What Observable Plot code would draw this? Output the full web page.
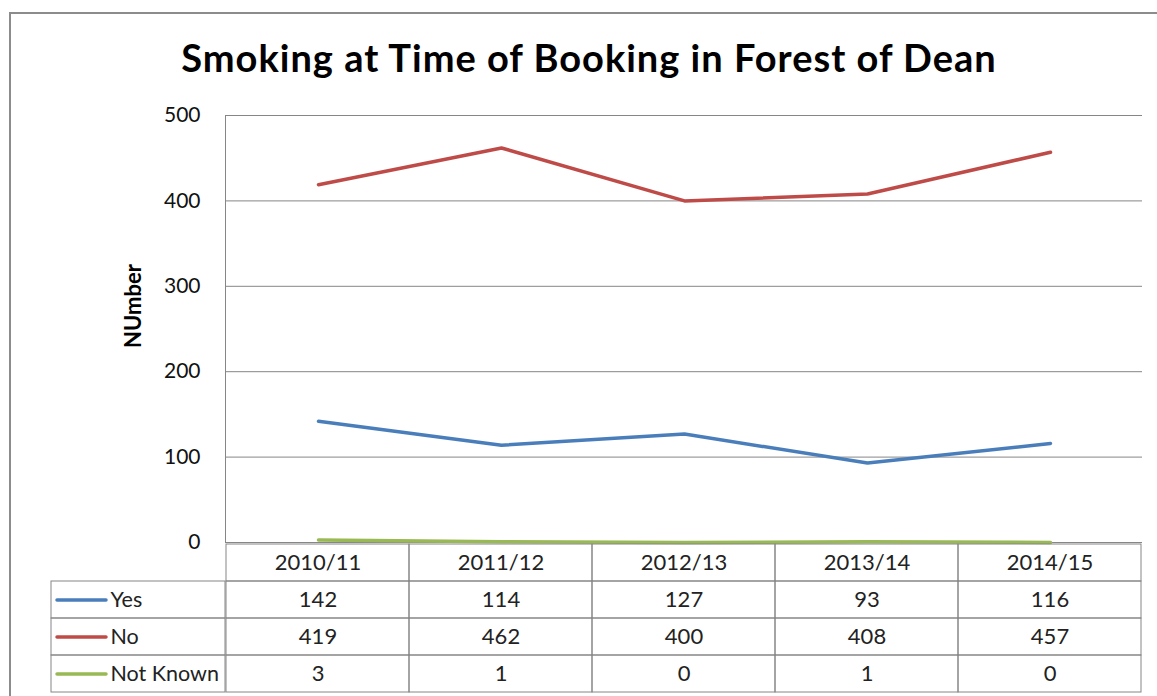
<!DOCTYPE html>
<html>
<head>
<meta charset="utf-8">
<script src="https://cdn.jsdelivr.net/npm/d3@7"></script>
<script src="https://cdn.jsdelivr.net/npm/@observablehq/plot@0.6"></script>
<style>
  html, body { margin: 0; padding: 0; background: #fff; }
  #wrap { position: relative; width: 1157px; height: 696px; overflow: hidden; background: #fff; font-family: Lato, "Open Sans", sans-serif; }
  #border { position: absolute; left: 9px; top: 12px; width: 1170px; height: 720px; border: 2px solid #8c8c8c; box-sizing: border-box; }
  #title { position: absolute; left: 0; top: 35px; width: 1178px; text-align: center; font-weight: bold; font-size: 38px; letter-spacing: 1px; line-height: 44px; color: #000; white-space: nowrap; }
  #chart { position: absolute; left: 0; top: 0; }
  #table { position: absolute; left: 0; top: 541px; }
  #legend { position: absolute; left: 50px; top: 541px; }
  svg { overflow: visible; }
</style>
</head>
<body>
<div id="wrap">
  <div id="border"></div>
  <div id="title">Smoking at Time of Booking in Forest of Dean</div>
  <div id="chart"></div>
  <div id="legend"></div>
  <div id="table"></div>
</div>
<script>
const categories = ["2010/11", "2011/12", "2012/13", "2013/14", "2014/15"];
const yesValues = [142, 114, 127, 93, 116];
const noValues = [419, 462, 400, 408, 457];
const notKnownValues = [3, 1, 0, 1, 0];
const seriesNames = ["Yes", "No", "Not Known"];
const seriesColors = ["#4a7ebb", "#be4b48", "#98b954"];
const yTicks = [0, 100, 200, 300, 400, 500];
const yLabel = "NUmber";

const seriesValues = [yesValues, noValues, notKnownValues];
const rows = seriesNames.flatMap((s, si) =>
  categories.map((c, ci) => ({series: s, cat: c, value: seriesValues[si][ci]})));

const font = "Lato, 'Open Sans', sans-serif";
const gridColor = "#868686";

const chart = Plot.plot({
  width: 1157,
  height: 560,
  marginLeft: 225,
  marginRight: 15,
  marginTop: 115,
  marginBottom: 18,
  style: {fontFamily: font, fontSize: "21px", color: "#000", background: "transparent"},
  x: {type: "point", domain: categories, padding: 0.5, axis: null},
  y: {domain: [0, 500], axis: null},
  color: {domain: seriesNames, range: seriesColors},
  marks: [
    Plot.gridY(yTicks, {stroke: gridColor, strokeOpacity: 1, strokeWidth: 1}),
    Plot.frame({anchor: "left", stroke: gridColor}),
    Plot.axisY(yTicks, {tickSize: 0, tickPadding: 25, fontSize: 21, fill: "#111", label: null, tickFormat: d => String(d)}),
    Plot.text([yLabel], {frameAnchor: "left", text: d => d, rotate: -90, textAnchor: "middle", dx: -92, dy: -23, fontWeight: "bold", fontSize: 22, fill: "#000"}),
    Plot.line(rows, {x: "cat", y: "value", z: "series", stroke: "series", strokeWidth: 3.5, strokeLinecap: "round", strokeLinejoin: "round"})
  ]
});
document.getElementById("chart").appendChild(chart);

const rowKeys = ["header", ...seriesNames];
const tableCells = [
  ...categories.map(c => ({row: "header", cat: c, label: c})),
  ...rows.map(r => ({row: r.series, cat: r.cat, label: String(r.value)}))
];

const table = Plot.plot({
  width: 1157,
  height: 154,
  marginLeft: 225,
  marginRight: 15,
  marginTop: 1,
  marginBottom: 2,
  style: {fontFamily: font, fontSize: "22px", color: "#000", background: "transparent"},
  x: {type: "band", domain: categories, padding: 0, axis: null},
  y: {type: "band", domain: rowKeys, padding: 0, axis: null},
  marks: [
    Plot.cell(tableCells, {x: "cat", y: "row", fill: "none", stroke: gridColor, inset: 0}),
    Plot.text(tableCells, {x: "cat", y: "row", text: "label", fontSize: 22, fill: "#222"})
  ]
});
document.getElementById("table").appendChild(table);

const legend = Plot.plot({
  width: 176,
  height: 154,
  marginLeft: 1,
  marginRight: 1,
  marginTop: 1,
  marginBottom: 2,
  style: {fontFamily: font, fontSize: "21.5px", color: "#000", background: "transparent"},
  y: {type: "band", domain: rowKeys, padding: 0, axis: null},
  color: {domain: seriesNames, range: seriesColors},
  marks: [
    Plot.cell(seriesNames, {y: d => d, fill: "none", stroke: gridColor, inset: 0}),
    Plot.ruleY(seriesNames, {y: d => d, stroke: d => d, strokeWidth: 3.5, strokeLinecap: "round", insetLeft: 6, insetRight: 119}),
    Plot.text(seriesNames, {y: d => d, text: d => d, frameAnchor: "left", textAnchor: "start", dx: 59, fontSize: 21.5, fill: "#222"})
  ]
});
document.getElementById("legend").appendChild(legend);
</script>
</body>
</html>
